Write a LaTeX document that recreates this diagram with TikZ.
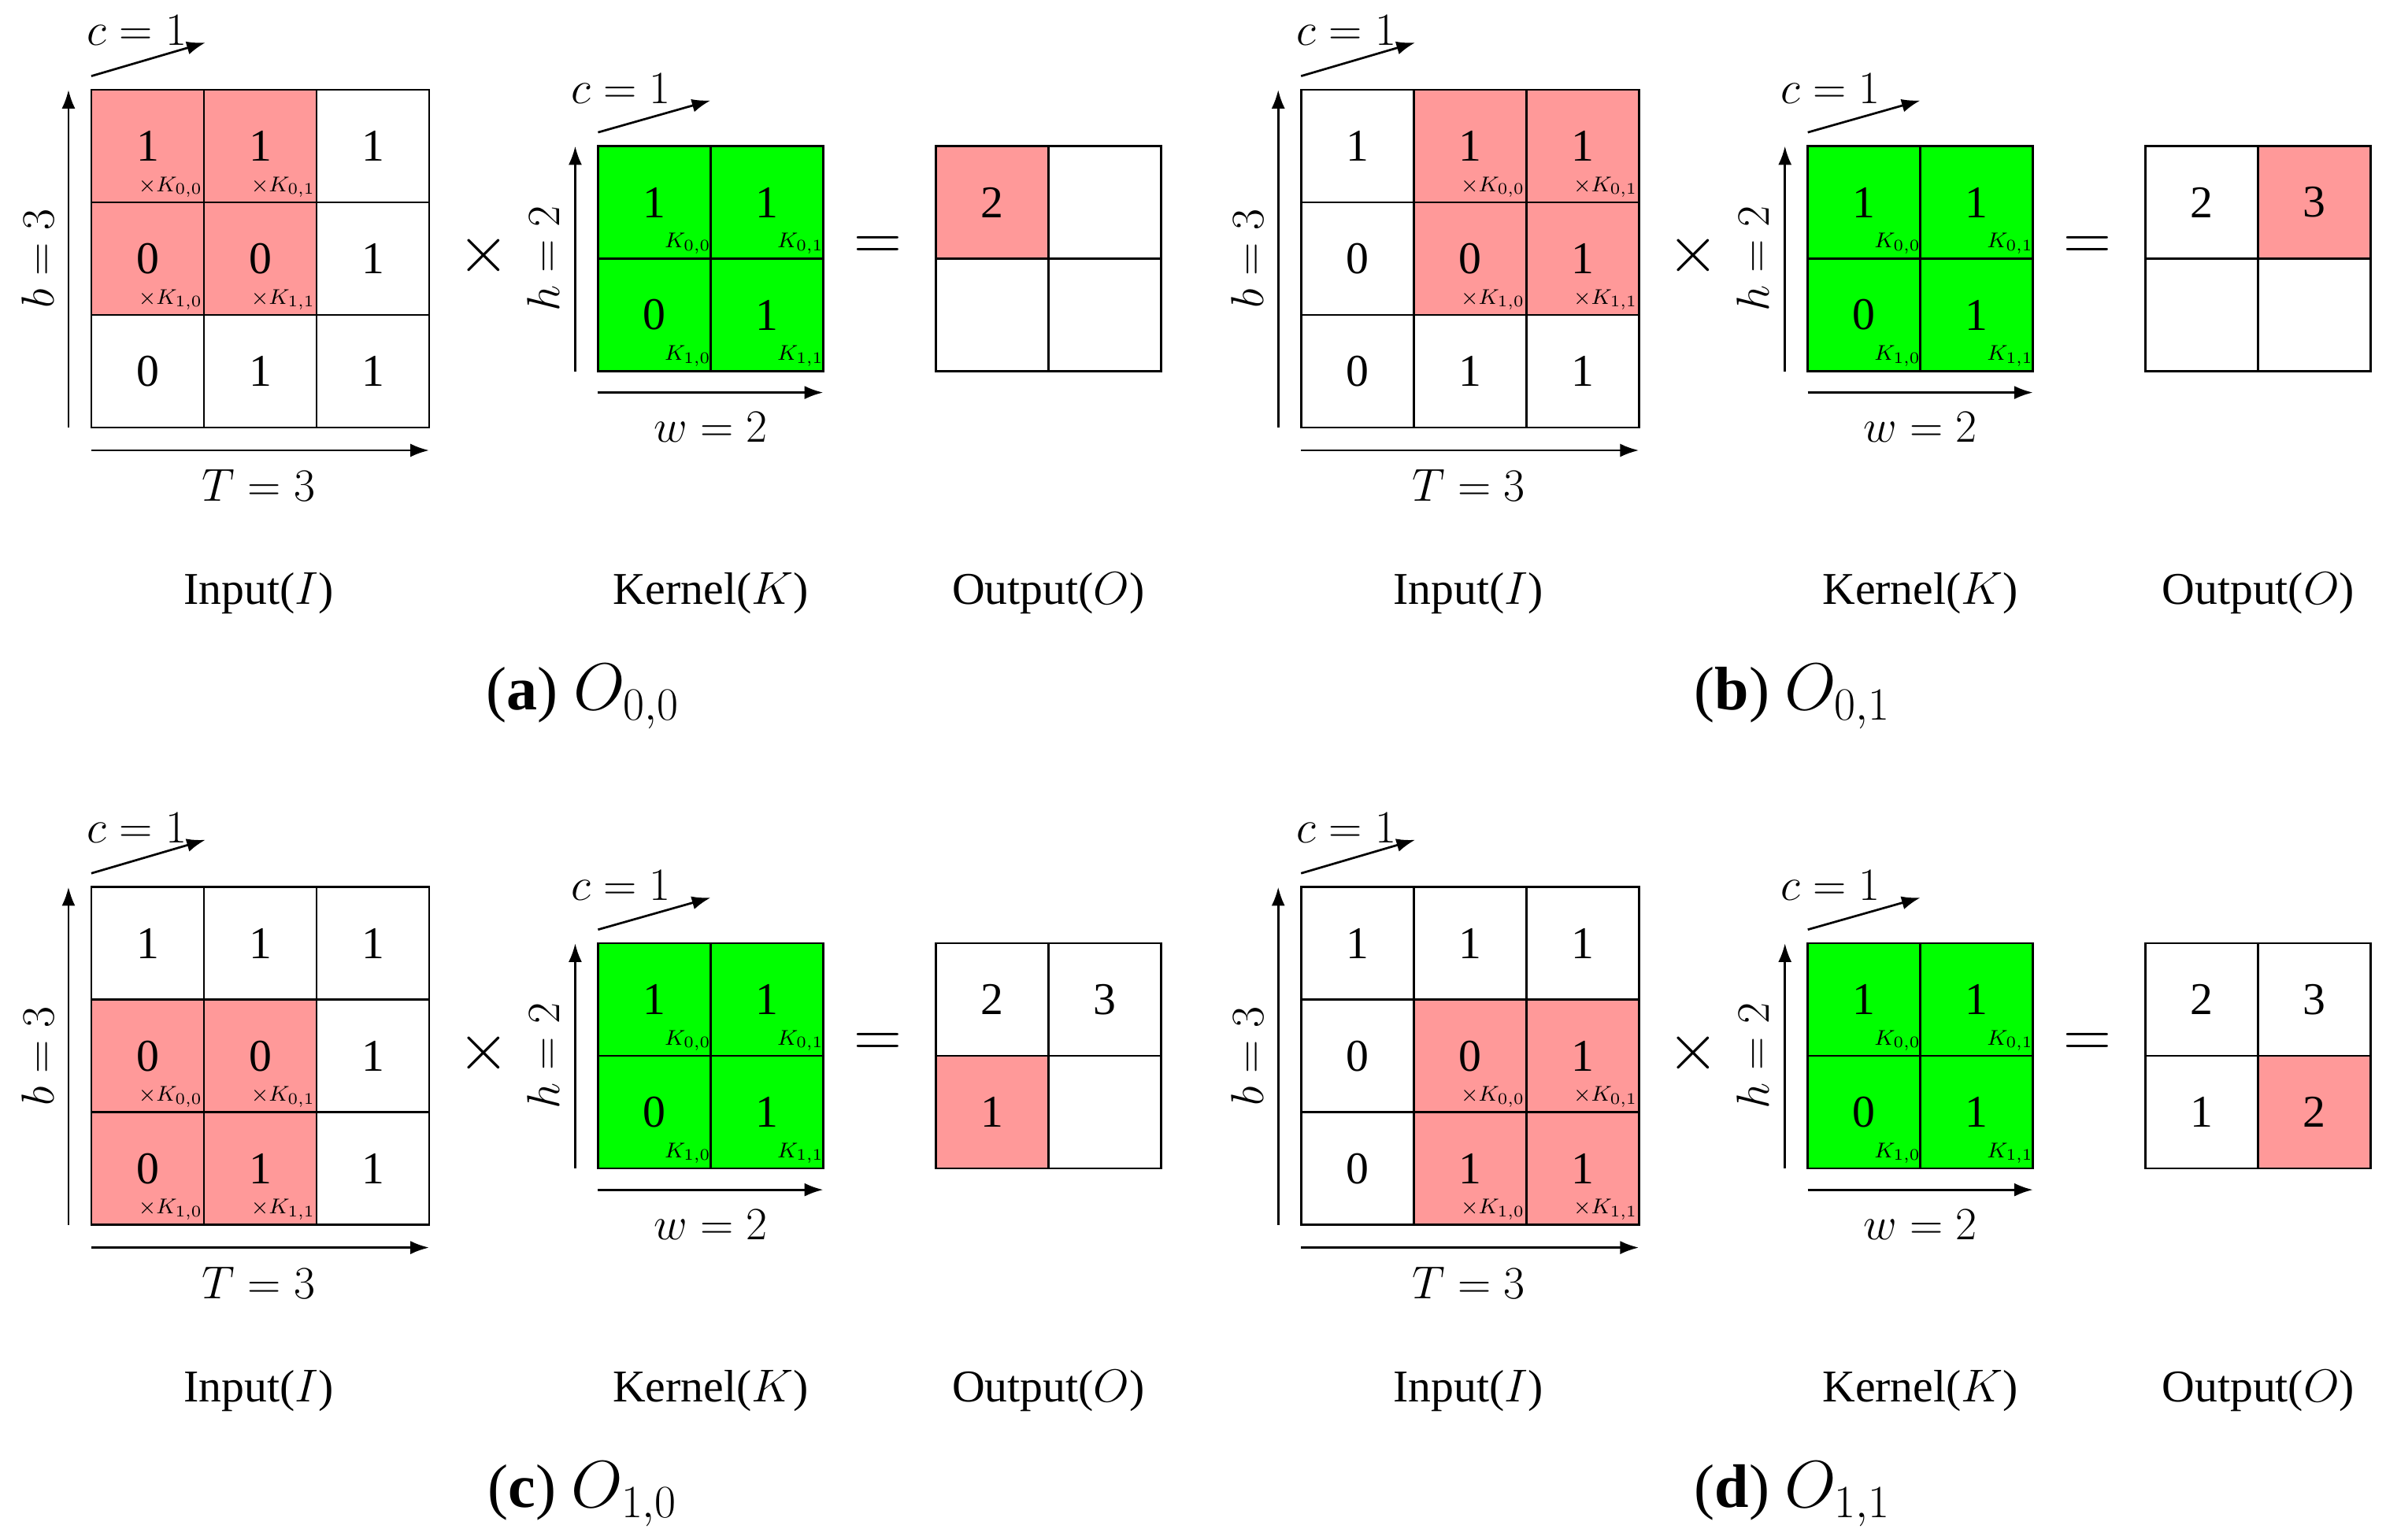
\documentclass[tikz,border=0pt]{standalone}
\usepackage{fontspec}
\setmainfont{Liberation Serif}
\usetikzlibrary{arrows.meta}
\definecolor{myred}{HTML}{FF9999}
\definecolor{mygreen}{HTML}{00FF00}
\tikzset{
 cell/.style={draw,line width=0.8pt,minimum size=1.48cm,inner sep=0pt,font=\fontsize{17}{17}\selectfont},
 ax/.style={-{Latex[length=7pt,width=5pt]},line width=0.8pt},
 lab/.style={font=\fontsize{17}{17}\selectfont},
 small/.style={font=\fontsize{8}{8}\selectfont,inner sep=0pt},
 captext/.style={font=\fontsize{23}{23}\selectfont}
}
\newcommand\drawpanel[7]{%
\begin{scope}[shift={(#2,#3)}]
 \foreach \r/\c/\v in {0/0/1,0/1/1,0/2/1,1/0/0,1/1/0,1/2/1,2/0/0,2/1/1,2/2/1}
   \node[cell] (#1i\r\c) at (97+74*\c,96+74*\r) {\v};
 \foreach \r/\c/\kr/\kc in {#4}{
   \node[cell,fill=myred] (#1i\r\c) at (97+74*\c,96+74*\r) {\ifnum\r=2 \ifnum\c=0 0\else 1\fi\else\ifnum\r=0 1\else\ifnum\c=2 1\else 0\fi\fi\fi};
   \node[small] (#1ik\r\c) at (112+74*\c,123+74*\r) {$\times K_{\kr,\kc}$};}
 \coordinate (#1v0) at (45,281); \coordinate (#1v1) at (45,59);
 \draw[ax] (#1v0) -- (#1v1);
 \node[lab,rotate=90] (#1b) at (25,170) {$b=3$};
 \coordinate (#1h0) at (60,296); \coordinate (#1h1) at (282,296);
 \draw[ax] (#1h0) -- (#1h1);
 \node[lab] (#1T) at (170,319) {$T=3$};
 \coordinate (#1d0) at (60,50); \coordinate (#1d1) at (135,28);
 \draw[ax] (#1d0) -- (#1d1);
 \node[lab] (#1c) at (90,20) {$c=1$};
 \node[font=\fontsize{34}{34}\selectfont] (#1x) at (318,168) {$\times$};
 \foreach \r/\c/\v in {0/0/1,0/1/1,1/0/0,1/1/1}{
   \node[cell,fill=mygreen] (#1k\r\c) at (430+74*\c,133+74*\r) {\v};
   \node[small] (#1kk\r\c) at (452+74*\c,160+74*\r) {$K_{\r,\c}$};}
 \coordinate (#1kv0) at (378,244); \coordinate (#1kv1) at (378,96);
 \draw[ax] (#1kv0) -- (#1kv1);
 \node[lab,rotate=90] (#1h) at (357,170) {$h=2$};
 \coordinate (#1kh0) at (393,258); \coordinate (#1kh1) at (541,258);
 \draw[ax] (#1kh0) -- (#1kh1);
 \node[lab] (#1w) at (467,281) {$w=2$};
 \coordinate (#1kd0) at (393,87); \coordinate (#1kd1) at (467,66);
 \draw[ax] (#1kd0) -- (#1kd1);
 \node[lab] (#1kc) at (408,58) {$c=1$};
 \node[font=\fontsize{34}{34}\selectfont] (#1eq) at (577,163) {$=$};
 \foreach \r/\c in {0/0,0/1,1/0,1/1}
   \node[cell] (#1o\r\c) at (652+74*\c,133+74*\r) {};
 \foreach \r/\c/\v/\f in {#5}
   \node[cell,fill=\f] (#1o\r\c) at (652+74*\c,133+74*\r) {\v};
 \node[lab] (#1li) at (170,390) {Input($I$)};
 \node[lab] (#1lk) at (467,390) {Kernel($K$)};
 \node[lab] (#1lo) at (689,390) {Output($O$)};
 \node[captext] (#1cap) at (383,458) {(\textbf{#6}) $O_{#7}$};
\end{scope}}
\begin{document}
\begin{tikzpicture}[x=0.02cm,y=-0.02cm]
\path[use as bounding box] (0,0) rectangle (1568,1012);
\drawpanel{a}{0}{0}{0/0/0/0,0/1/0/1,1/0/1/0,1/1/1/1}{0/0/2/myred}{a}{0,0}
\drawpanel{b}{795}{0}{0/1/0/0,0/2/0/1,1/1/1/0,1/2/1/1}{0/0/2/white,0/1/3/myred}{b}{0,1}
\drawpanel{c}{0}{524}{1/0/0/0,1/1/0/1,2/0/1/0,2/1/1/1}{0/0/2/white,0/1/3/white,1/0/1/myred}{c}{1,0}
\drawpanel{d}{795}{524}{1/1/0/0,1/2/0/1,2/1/1/0,2/2/1/1}{0/0/2/white,0/1/3/white,1/0/1/white,1/1/2/myred}{d}{1,1}
\end{tikzpicture}
\end{document}
